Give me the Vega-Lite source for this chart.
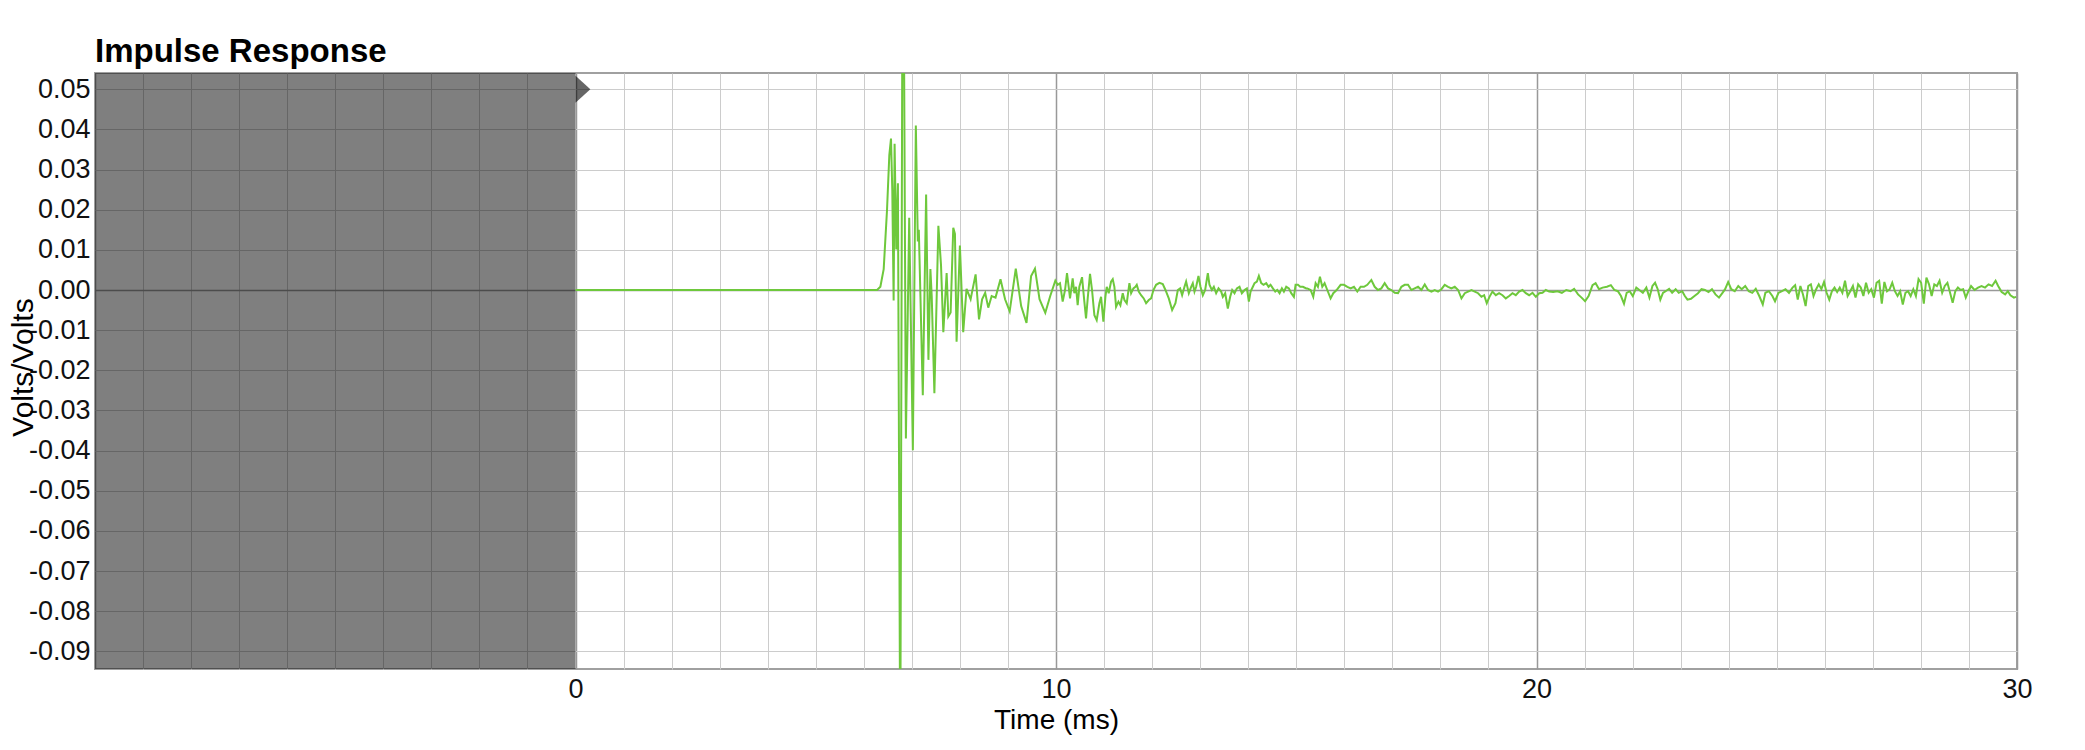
{
  "$schema": "https://vega.github.io/schema/vega-lite/v6.json",
  "width": 1922,
  "height": 596,
  "autosize": {"type": "none"},
  "padding": {"left": 95, "top": 73, "right": 68, "bottom": 81},
  "title": {"text": "Impulse Response", "anchor": "start", "frame": "group", "fontSize": 33, "fontWeight": "bold", "font": "Liberation Sans", "color": "#000000", "offset": 9, "baseline": "alphabetic", "dy": 31},
  "config": {
    "view": {"stroke": "#a0a0a0", "strokeWidth": 2},
    "axis": {"labelFont": "Liberation Sans", "labelFontSize": 27, "labelColor": "#111111", "titleFont": "Liberation Sans", "titleFontSize": 28, "titleFontWeight": "normal", "titleColor": "#000000", "domain": false, "ticks": false, "gridWidth": 1}
  },
  "datasets": {
    "shade": [{"x0": -10, "x1": 0}],
    "marker": [{"t": 0, "v": 0.05}],
    "ir": [
      {"t":0,"v":0},{"t":6.276,"v":0},{"t":6.345,"v":0.0008},{"t":6.414,"v":0.0052},{"t":6.483,"v":0.0199},{"t":6.531,"v":0.0336},{"t":6.566,"v":0.0377},{"t":6.593,"v":0.0248},{"t":6.621,"v":-0.0026},{"t":6.641,"v":0.0364},{"t":6.676,"v":0.0101},{"t":6.71,"v":0.0266},{"t":6.759,"v":-0.12},{"t":6.814,"v":0.12},{"t":6.876,"v":-0.037},{"t":6.945,"v":0.018},{"t":7.021,"v":-0.0399},{"t":7.083,"v":0.041},{"t":7.124,"v":0.0121},{"t":7.145,"v":0.015},{"t":7.179,"v":-0.0017},{"t":7.228,"v":-0.0262},{"t":7.297,"v":0.0238},{"t":7.345,"v":-0.0174},{"t":7.386,"v":0.0052},{"t":7.414,"v":-0.0017},{"t":7.469,"v":-0.0257},{"t":7.552,"v":0.016},{"t":7.607,"v":0.0062},{"t":7.655,"v":-0.0105},{"t":7.724,"v":0.0042},{"t":7.759,"v":-0.0066},{"t":7.807,"v":-0.0056},{"t":7.862,"v":0.0155},{"t":7.897,"v":0.014},{"t":7.931,"v":-0.0129},{"t":8.0,"v":0.0111},{"t":8.069,"v":-0.0105},{"t":8.138,"v":0.0003},
      {"t":8.223,"v":-0.0023},{"t":8.327,"v":0.0039},{"t":8.398,"v":-0.0073},{"t":8.462,"v":-0.0023},{"t":8.526,"v":-0.0007},{"t":8.59,"v":-0.0044},{"t":8.661,"v":-0.0015},{"t":8.741,"v":-0.0019},{"t":8.845,"v":0.0027},{"t":8.94,"v":-0.0023},{"t":9.036,"v":-0.0053},{"t":9.163,"v":0.0053},{"t":9.275,"v":-0.004},{"t":9.386,"v":-0.0082},{"t":9.482,"v":0.0035},{"t":9.562,"v":0.0053},{"t":9.657,"v":-0.0023},{"t":9.777,"v":-0.0057},{"t":9.88,"v":-0.0015},
      {"t":9.986,"v":0.0023},{"t":10.035,"v":0.0013},{"t":10.083,"v":0.0017},{"t":10.139,"v":-0.0029},{"t":10.188,"v":0},{"t":10.229,"v":0.0042},{"t":10.264,"v":0.0008},{"t":10.292,"v":-0.0021},{"t":10.347,"v":0.0029},{"t":10.382,"v":-0.0008},{"t":10.417,"v":0.0008},{"t":10.451,"v":-0.0038},{"t":10.486,"v":0.0008},{"t":10.542,"v":0.0032},{"t":10.59,"v":-0.0029},{"t":10.625,"v":-0.0071},{"t":10.66,"v":-0.0021},{"t":10.708,"v":0.004},{"t":10.75,"v":0},{"t":10.799,"v":-0.0063},{"t":10.847,"v":-0.0075},{"t":10.903,"v":-0.0033},{"t":10.938,"v":-0.0017},{"t":10.986,"v":-0.0079},{"t":11.028,"v":-0.0017},{"t":11.056,"v":0.0008},{"t":11.097,"v":-0.0008},{"t":11.146,"v":0.0021},{"t":11.181,"v":0.0027},{"t":11.215,"v":0.0008},{"t":11.25,"v":-0.0042},{"t":11.299,"v":-0.0029},{"t":11.34,"v":-0.0038},{"t":11.389,"v":-0.0008},{"t":11.424,"v":-0.0025},{"t":11.472,"v":-0.0033},{"t":11.528,"v":0.0017},{"t":11.563,"v":-0.0008},{"t":11.611,"v":0.0004},{"t":11.653,"v":0.0008},{"t":11.681,"v":0.0013},{"t":11.722,"v":-0.0004},{"t":11.771,"v":-0.0013},{"t":11.826,"v":-0.0021},{"t":11.875,"v":-0.0033},{"t":11.931,"v":-0.0025},{"t":11.979,"v":-0.0021},{"t":12.028,"v":0},{"t":12.083,"v":0.0013},{"t":12.153,"v":0.0018},{"t":12.222,"v":0.0015},{"t":12.278,"v":0},{"t":12.347,"v":-0.0021},{"t":12.417,"v":-0.005},{"t":12.486,"v":-0.0033},{"t":12.535,"v":0},{"t":12.583,"v":0.0004},{"t":12.625,"v":-0.0013},{"t":12.674,"v":0.0008},{"t":12.708,"v":0.0021},{"t":12.764,"v":-0.0008},{"t":12.813,"v":0.0008},{"t":12.847,"v":0.0017},{"t":12.882,"v":-0.0004},{"t":12.917,"v":0.0008},{"t":12.965,"v":0.0035},{"t":13.007,"v":0.0008},{"t":13.056,"v":-0.0013},{"t":13.104,"v":0},{"t":13.16,"v":0.0042},{"t":13.194,"v":0.0013},{"t":13.243,"v":0},{"t":13.285,"v":0.0008},{"t":13.333,"v":-0.0008},{"t":13.382,"v":0.0004},{"t":13.438,"v":-0.0004},{"t":13.472,"v":-0.0017},{"t":13.521,"v":-0.0008},{"t":13.576,"v":-0.0046},{"t":13.625,"v":-0.0017},{"t":13.667,"v":0},{"t":13.715,"v":-0.0008},{"t":13.764,"v":0.0004},{"t":13.819,"v":0.0008},{"t":13.868,"v":-0.0008},{"t":13.924,"v":0},{"t":13.972,"v":0.0004},{"t":14.014,"v":-0.0029},{"t":14.049,"v":-0.0004},{"t":14.097,"v":0.0008},{"t":14.132,"v":0.0017},{"t":14.181,"v":0.0021},{"t":14.222,"v":0.0035},{"t":14.271,"v":0.0017},{"t":14.319,"v":0.0013},{"t":14.375,"v":0.0017},{"t":14.424,"v":0.0008},{"t":14.465,"v":0.0013},{"t":14.514,"v":0.0004},{"t":14.563,"v":-0.0004},{"t":14.604,"v":0},{"t":14.653,"v":-0.0008},{"t":14.701,"v":0.0004},{"t":14.743,"v":-0.0004},{"t":14.792,"v":0.0008},{"t":14.847,"v":0.0004},{"t":14.896,"v":-0.0008},{"t":14.951,"v":-0.0017},{"t":14.986,"v":0.0013},{"t":15.035,"v":0.0013},{"t":15.083,"v":0.0008},{"t":15.139,"v":0.0008},{"t":15.208,"v":0.0004},
      {"t":15.229,"v":0.0004},{"t":15.299,"v":0},{"t":15.354,"v":-0.0017},{"t":15.403,"v":0.0017},{"t":15.451,"v":0.0008},{"t":15.493,"v":0.0033},{"t":15.542,"v":0.0008},{"t":15.59,"v":0.0017},{"t":15.646,"v":0},{"t":15.715,"v":-0.0021},{"t":15.771,"v":-0.0008},{"t":15.84,"v":0},{"t":15.924,"v":0.0013},{"t":15.993,"v":0.0013},{"t":16.063,"v":0.0008},{"t":16.132,"v":0.0004},{"t":16.201,"v":0.0008},{"t":16.271,"v":-0.0004},{"t":16.34,"v":0.0008},{"t":16.41,"v":0.0008},{"t":16.479,"v":0.0013},{"t":16.563,"v":0.0025},{"t":16.632,"v":0.0008},{"t":16.701,"v":0},{"t":16.771,"v":0.0004},{"t":16.84,"v":0.0017},{"t":16.91,"v":0.0004},{"t":16.979,"v":0},{"t":17.049,"v":-0.0007},{"t":17.118,"v":-0.0008},{"t":17.188,"v":0.0008},{"t":17.257,"v":0.0013},{"t":17.326,"v":0.0013},{"t":17.396,"v":0},{"t":17.465,"v":0.0004},{"t":17.535,"v":0.0008},{"t":17.604,"v":0},{"t":17.674,"v":0.0014},{"t":17.743,"v":0},{"t":17.813,"v":-0.0004},{"t":17.882,"v":0},{"t":17.951,"v":-0.0004},{"t":18.021,"v":0.0002},{"t":18.09,"v":0.0013},{"t":18.16,"v":0.0008},{"t":18.229,"v":0.0004},{"t":18.299,"v":0.0008},{"t":18.368,"v":0},{"t":18.438,"v":-0.0021},{"t":18.507,"v":-0.0008},{"t":18.576,"v":-0.0004},{"t":18.646,"v":0},{"t":18.715,"v":-0.0004},{"t":18.785,"v":-0.0008},{"t":18.854,"v":-0.0017},{"t":18.91,"v":-0.0013},{"t":18.965,"v":-0.0033},{"t":19.021,"v":-0.0017},{"t":19.083,"v":-0.0004},{"t":19.153,"v":-0.0013},{"t":19.222,"v":-0.0008},{"t":19.292,"v":-0.0013},{"t":19.361,"v":-0.0021},{"t":19.431,"v":-0.0015},{"t":19.5,"v":-0.0008},{"t":19.569,"v":-0.0013},{"t":19.639,"v":-0.0004},{"t":19.708,"v":0},{"t":19.778,"v":-0.0008},{"t":19.847,"v":-0.0013},{"t":19.917,"v":-0.0007},{"t":19.986,"v":-0.0017},{"t":20.056,"v":-0.0008},{"t":20.125,"v":-0.0007},{"t":20.194,"v":0},{"t":20.264,"v":-0.0004},
      {"t":20.346,"v":-0.0005},{"t":20.437,"v":-0.0003},{"t":20.528,"v":-0.0007},{"t":20.619,"v":0},{"t":20.71,"v":-0.0003},{"t":20.783,"v":0.0003},{"t":20.865,"v":-0.0011},{"t":20.938,"v":-0.0019},{"t":21.011,"v":-0.0028},{"t":21.084,"v":-0.0015},{"t":21.166,"v":0.0012},{"t":21.23,"v":0.0017},{"t":21.302,"v":0.0002},{"t":21.375,"v":0.0006},{"t":21.466,"v":0.0008},{"t":21.548,"v":0.0012},{"t":21.621,"v":0},{"t":21.694,"v":-0.0003},{"t":21.758,"v":-0.0015},{"t":21.821,"v":-0.0034},{"t":21.876,"v":-0.0007},{"t":21.94,"v":-0.0003},{"t":22.004,"v":-0.0015},{"t":22.077,"v":0.0006},{"t":22.14,"v":0},{"t":22.213,"v":-0.0007},{"t":22.286,"v":0.0006},{"t":22.35,"v":-0.0019},{"t":22.413,"v":0.001},{"t":22.468,"v":0.0018},{"t":22.523,"v":0.0002},{"t":22.577,"v":-0.0024},{"t":22.632,"v":-0.0007},{"t":22.687,"v":-0.0003},{"t":22.76,"v":0.0003},{"t":22.823,"v":-0.0007},{"t":22.896,"v":0.0002},{"t":22.96,"v":-0.0007},{"t":23.033,"v":-0.0003},{"t":23.087,"v":-0.0015},{"t":23.142,"v":-0.0024},{"t":23.215,"v":-0.0022},{"t":23.288,"v":-0.0015},{"t":23.361,"v":-0.0008},{"t":23.434,"v":0.0002},{"t":23.506,"v":0},{"t":23.579,"v":-0.0005},{"t":23.652,"v":0.0002},{"t":23.725,"v":-0.0011},{"t":23.798,"v":-0.0019},{"t":23.871,"v":-0.0007},{"t":23.925,"v":0.0002},{"t":23.989,"v":0.002},{"t":24.053,"v":0.0002},{"t":24.126,"v":-0.0003},{"t":24.199,"v":0.001},{"t":24.271,"v":0.0002},{"t":24.344,"v":0.001},{"t":24.417,"v":-0.0003},{"t":24.49,"v":-0.0007},{"t":24.563,"v":0.0003},{"t":24.636,"v":-0.0015},{"t":24.709,"v":-0.0036},{"t":24.763,"v":-0.0007},{"t":24.836,"v":-0.0003},{"t":24.909,"v":-0.0015},{"t":24.964,"v":-0.0028},{"t":25.036,"v":-0.0007},{"t":25.109,"v":-0.0003},{"t":25.182,"v":0.0002},{"t":25.255,"v":-0.0007},{"t":25.328,"v":0.0006},{"t":25.383,"v":0.0012},{"t":25.437,"v":-0.0024},{"t":25.492,"v":0.001},{"t":25.546,"v":-0.0011},{"t":25.601,"v":-0.004},{"t":25.656,"v":0.001},{"t":25.71,"v":0.0014},{"t":25.765,"v":-0.0015},{"t":25.82,"v":0.0002},{"t":25.874,"v":0.0014},{"t":25.929,"v":0.0002},{"t":25.984,"v":0.002},{"t":26.038,"v":-0.0007},{"t":26.093,"v":-0.0024},{"t":26.148,"v":-0.0003},{"t":26.202,"v":0.0006},{"t":26.257,"v":-0.0005},{"t":26.311,"v":0.0006},{"t":26.366,"v":-0.0007},{"t":26.421,"v":0.0023},{"t":26.475,"v":-0.0015},{"t":26.53,"v":-0.0003},{"t":26.585,"v":0.001},{"t":26.639,"v":-0.0019},{"t":26.694,"v":0.0014},{"t":26.749,"v":0.0006},{"t":26.803,"v":-0.0015},{"t":26.858,"v":0.0018},{"t":26.913,"v":-0.0007},{"t":26.967,"v":0.0002},{"t":27.022,"v":-0.0019},{"t":27.077,"v":0.0018},{"t":27.131,"v":0.0023},{"t":27.186,"v":-0.0034},{"t":27.24,"v":0.002},{"t":27.295,"v":-0.0003},{"t":27.35,"v":0.0002},{"t":27.404,"v":0.0018},{"t":27.459,"v":-0.0003},{"t":27.514,"v":-0.0015},{"t":27.568,"v":-0.0003},{"t":27.623,"v":-0.0036},{"t":27.678,"v":-0.0007},{"t":27.732,"v":-0.0003},{"t":27.787,"v":-0.0015},{"t":27.842,"v":0.0002},{"t":27.896,"v":-0.0015},{"t":27.951,"v":0.0027},{"t":28.005,"v":0.0018},{"t":28.06,"v":-0.0034},{"t":28.115,"v":0.0031},{"t":28.169,"v":0.0014},{"t":28.224,"v":-0.0015},{"t":28.279,"v":0.0014},{"t":28.333,"v":0.001},{"t":28.388,"v":0.0023},{"t":28.443,"v":-0.0007},{"t":28.497,"v":0.001},{"t":28.552,"v":0.0018},{"t":28.607,"v":-0.0007},{"t":28.661,"v":-0.0032},{"t":28.716,"v":-0.0003},{"t":28.77,"v":0.0006},{"t":28.825,"v":0},{"t":28.88,"v":0.0002},{"t":28.934,"v":-0.0019},{"t":28.989,"v":-0.0003},{"t":29.044,"v":0.001},{"t":29.117,"v":0},{"t":29.189,"v":0.0006},{"t":29.262,"v":0.001},{"t":29.335,"v":0.0006},{"t":29.408,"v":0.0014},{"t":29.481,"v":0.001},{"t":29.554,"v":0.0023},{"t":29.608,"v":0.001},{"t":29.681,"v":-0.0005},{"t":29.754,"v":-0.0011},{"t":29.809,"v":-0.0003},{"t":29.863,"v":-0.0013},{"t":29.936,"v":-0.0019},{"t":29.982,"v":-0.0017}
    ]
  },
  "layer": [
    {
      "data": {"name": "shade"},
      "mark": {"type": "rect", "fill": "#000000", "fillOpacity": 0.5},
      "encoding": {
        "x": {"field": "x0", "type": "quantitative"},
        "x2": {"field": "x1"}
      }
    },
    {
      "data": {"name": "ir"},
      "mark": {"type": "line", "color": "#6ec83c", "strokeWidth": 2, "clip": true, "interpolate": "linear"},
      "encoding": {
        "x": {
          "field": "t", "type": "quantitative",
          "scale": {"domain": [-10, 30], "nice": false, "zero": false},
          "axis": {
            "title": "Time (ms)",
            "values": [-10,-9,-8,-7,-6,-5,-4,-3,-2,-1,0,1,2,3,4,5,6,7,8,9,10,11,12,13,14,15,16,17,18,19,20,21,22,23,24,25,26,27,28,29,30],
            "labelExpr": "datum.value >= 0 && datum.value % 10 === 0 ? datum.label : ''",
            "labelOverlap": false,
            "labelFlush": false,
            "labelPadding": 7,
            "gridColor": {"condition": {"test": "datum.value % 10 === 0", "value": "#999999"}, "value": "#cccccc"},
            "gridWidth": {"condition": {"test": "datum.value % 10 === 0", "value": 1.5}, "value": 1},
            "titleBaseline": "alphabetic",
            "titleY": 59
          }
        },
        "y": {
          "field": "v", "type": "quantitative",
          "scale": {"domain": [-0.0944, 0.05405], "nice": false, "zero": false},
          "axis": {
            "title": "Volts/Volts",
            "titleFontSize": 30,
            "values": [-0.09,-0.08,-0.07,-0.06,-0.05,-0.04,-0.03,-0.02,-0.01,0,0.01,0.02,0.03,0.04,0.05],
            "labelExpr": "replace(format(datum.value, '.2f'), '\u2212', '-')",
            "labelOverlap": false,
            "labelPadding": 5,
            "gridColor": {"condition": {"test": "datum.value === 0", "value": "#999999"}, "value": "#cccccc"},
            "gridWidth": {"condition": {"test": "datum.value === 0", "value": 1.5}, "value": 1},
            "titleX": -72,
            "titleY": 294,
            "titleBaseline": "middle"
          }
        }
      }
    },
    {
      "data": {"name": "marker"},
      "mark": {"type": "point", "shape": "M 0 -1 L 1.1 0 L 0 1 Z", "size": 729, "filled": true, "fill": "#000000", "fillOpacity": 0.6, "strokeWidth": 0},
      "encoding": {
        "x": {"field": "t", "type": "quantitative"},
        "y": {"field": "v", "type": "quantitative"}
      }
    }
  ]
}
